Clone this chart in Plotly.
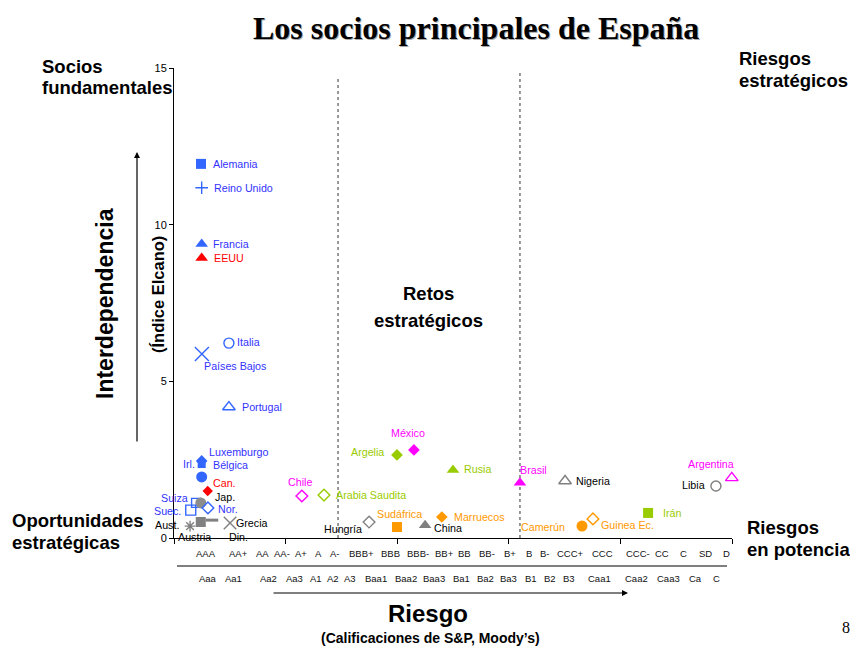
import plotly.graph_objects as go

# ---------------- datos ----------------
paises = ["Alemania", "Reino Unido", "Francia", "EEUU", "Italia", "Países Bajos", "Portugal",
          "Luxemburgo", "Irl.", "Bélgica", "Can.", "Suiza", "Jap.", "Nor.", "Suec.", "Aust.",
          "Austria", "Din.", "Grecia", "Chile", "Arabia Saudita", "Hungría", "Argelia", "México",
          "Sudáfrica", "China", "Marruecos", "Rusia", "Brasil", "Nigeria", "Camerún", "Guinea Ec.",
          "Irán", "Libia", "Argentina"]

# posición en la escala de riesgo (calificación crediticia)
riesgo = [1.21, 1.24, 1.24, 1.24, 2.46, 1.25, 2.46,
          1.24, 1.24, 1.24, 1.51, 0.99, 1.20, 1.52, 0.75, 0.72,
          1.20, 1.70, 2.51, 5.73, 6.72, 8.74, 9.99, 10.75,
          9.99, 11.25, 12.00, 12.50, 15.50, 17.52, 18.28, 18.77,
          21.24, 24.28, 24.99]

# Índice Elcano de interdependencia
interdependencia = [11.94, 11.18, 9.38, 8.94, 6.22, 5.87, 4.18,
                    2.46, 2.36, 1.95, 1.50, 1.12, 1.12, 0.96, 0.89, 0.38,
                    0.51, 0.57, 0.48, 1.34, 1.37, 0.51, 2.65, 2.81,
                    0.35, 0.41, 0.67, 2.17, 1.76, 1.82, 0.38, 0.61,
                    0.80, 1.66, 1.92]

calif_sp = ["AAA", "AA+", "AA", "AA-", "A+", "A", "A-", "BBB+", "BBB", "BBB-", "BB+", "BB",
            "BB-", "B+", "B", "B-", "CCC+", "CCC", "CCC-", "CC", "C", "SD", "D"]
calif_moodys = ["Aaa", "Aa1", "Aa2", "Aa3", "A1", "A2", "A3", "Baa1", "Baa2", "Baa3", "Ba1",
                "Ba2", "Ba3", "B1", "B2", "B3", "Caa1", "Caa2", "Caa3", "Ca", "C"]

limites_zonas = [7.35, 15.5]

# ---------------- estilo ----------------
AZUL, AZUL_T = "#3366FF", "#3333FF"
ROJO = "#FF0000"
MAGENTA = "#FF00FF"
VERDE = "#99CC00"
NARANJA = "#FF9900"
GRIS, NEGRO = "#808080", "#000000"

# símbolo, tamaño, color del marcador, color del texto
estilo = {
    "Alemania": ("square", 10, AZUL, AZUL_T),
    "Reino Unido": ("cross-thin-open", 9, AZUL, AZUL_T),
    "Francia": ("triangle-up", 11, AZUL, AZUL_T),
    "EEUU": ("triangle-up", 11, ROJO, ROJO),
    "Italia": ("circle-open", 10, AZUL, AZUL_T),
    "Países Bajos": ("x-thin-open", 14, AZUL, AZUL_T),
    "Portugal": ("triangle-up-open", 11, AZUL, AZUL_T),
    "Luxemburgo": ("diamond", 9, AZUL, AZUL_T),
    "Irl.": ("square", 8, AZUL, AZUL_T),
    "Bélgica": ("circle", 11, AZUL, AZUL_T),
    "Can.": ("diamond", 8, ROJO, ROJO),
    "Suiza": ("square-open", 9, AZUL, AZUL_T),
    "Jap.": ("circle", 11, "#8C8C8C", NEGRO),
    "Nor.": ("diamond-open", 9, AZUL, AZUL_T),
    "Suec.": ("square-open", 10, AZUL, AZUL_T),
    "Aust.": ("asterisk-open", 9, GRIS, NEGRO),
    "Austria": ("square", 10, GRIS, NEGRO),
    "Din.": ("line-ew-open", 9, GRIS, NEGRO),
    "Grecia": ("x-thin-open", 12.5, GRIS, NEGRO),
    "Chile": ("diamond-open", 9, MAGENTA, MAGENTA),
    "Arabia Saudita": ("diamond-open", 9, VERDE, VERDE),
    "Hungría": ("diamond-open", 9, GRIS, NEGRO),
    "Argelia": ("diamond", 9, VERDE, VERDE),
    "México": ("diamond", 9, MAGENTA, MAGENTA),
    "Sudáfrica": ("square", 10, NARANJA, NARANJA),
    "China": ("triangle-up", 11, GRIS, NEGRO),
    "Marruecos": ("diamond", 9, NARANJA, NARANJA),
    "Rusia": ("triangle-up", 11, VERDE, VERDE),
    "Brasil": ("triangle-up", 11, MAGENTA, MAGENTA),
    "Nigeria": ("triangle-up-open", 11, GRIS, NEGRO),
    "Camerún": ("circle", 11, NARANJA, NARANJA),
    "Guinea Ec.": ("diamond-open", 9, NARANJA, NARANJA),
    "Irán": ("square", 10, VERDE, VERDE),
    "Libia": ("circle-open", 10, GRIS, NEGRO),
    "Argentina": ("triangle-up-open", 11, MAGENTA, MAGENTA),
}

# desplazamiento de cada etiqueta respecto a su marcador (px: dx, dy hacia abajo, anclaje)
etiqueta = {
    "Alemania": (10, 0, "left"), "Reino Unido": (10, 0, "left"), "Francia": (9, 0, "left"),
    "EEUU": (10, 0, "left"), "Italia": (6, -1, "left"), "Países Bajos": (0, 12, "left"),
    "Portugal": (11, 0, "left"), "Luxemburgo": (5, -9, "left"), "Irl.": (-5, 0, "right"),
    "Bélgica": (9, -12, "left"), "Can.": (3, -8, "left"), "Suiza": (-6, -5, "right"),
    "Jap.": (12, -6, "left"), "Nor.": (8, 1, "left"), "Suec.": (-8, 1, "right"),
    "Aust.": (-9, -1, "right"), "Austria": (-6, 15, "center"), "Din.": (15, 17, "left"),
    "Grecia": (4, 0, "left"), "Chile": (-2, -14, "center"), "Arabia Saudita": (10, 0, "left"),
    "Hungría": (-5, 7, "right"), "Argelia": (-11, -3, "right"), "México": (-6, -17, "center"),
    "Sudáfrica": (3, -13, "center"), "China": (7, 3, "left"), "Marruecos": (10, 0, "left"),
    "Rusia": (9, -1, "left"), "Brasil": (-2, -13, "left"), "Nigeria": (9, 0, "left"),
    "Camerún": (-15, 1, "right"), "Guinea Ec.": (6, 6, "left"), "Irán": (13, 0, "left"),
    "Libia": (-9, -1, "right"), "Argentina": (-21, -14, "center"),
}

# centros (px) de las calificaciones bajo el eje
pos_sp = [206, 238, 262, 282, 301, 318, 335, 361, 390, 418, 444, 464, 487, 510, 529, 545,
          570, 602, 638, 662, 683, 705, 726]
pos_moodys = [208, 233, 268, 294, 316, 333, 350, 376, 406, 434, 461, 485, 509, 531, 550, 569,
              599, 636, 668, 695, 716]

SANS = "Liberation Sans, Arial, sans-serif"
SERIF = "Liberation Serif, Times New Roman, serif"

W, H = 850, 648
L, R, T, B = 174, 118, 68, 110
PW, PH = W - L - R, H - T - B
X_MAX, Y_MAX = 25, 15


def fx(px):
    return (px - L) / PW


def fy(py):
    return (H - B - py) / PH


fig = go.Figure()

simbolos = [estilo[p][0] for p in paises]
fig.add_trace(go.Scatter(
    x=riesgo, y=interdependencia, mode="markers", text=paises,
    hoverinfo="text", cliponaxis=False, showlegend=False,
    marker=dict(
        symbol=simbolos,
        size=[estilo[p][1] for p in paises],
        color=[estilo[p][2] for p in paises],
        line=dict(color=[estilo[p][2] for p in paises],
                  width=[3 if s.startswith("line") else (1.4 if s.endswith("open") else 0)
                         for s in simbolos]),
        opacity=1,
    ),
))

anots = []
for p, xv, yv in zip(paises, riesgo, interdependencia):
    dx, dy, anc = etiqueta[p]
    anots.append(dict(x=xv, y=yv, xref="x", yref="y", text=p, showarrow=False,
                      xanchor=anc, yanchor="middle", xshift=dx, yshift=-dy,
                      font=dict(family=SANS, size=10.7, color=estilo[p][3])))

# calificaciones S&P y Moody's
for lab, px in zip(calif_sp, pos_sp):
    anots.append(dict(x=fx(px), y=fy(553), xref="paper", yref="paper", text=lab,
                      showarrow=False, xanchor="center", yanchor="middle",
                      font=dict(family=SANS, size=9.5, color="#111")))
for lab, px in zip(calif_moodys, pos_moodys):
    anots.append(dict(x=fx(px), y=fy(578), xref="paper", yref="paper", text=lab,
                      showarrow=False, xanchor="center", yanchor="middle",
                      font=dict(family=SANS, size=9.5, color="#111")))


def texto(t, x, y, size, anchor="center", bold=True, family=SANS, color="#000", angle=0):
    anots.append(dict(x=fx(x), y=fy(y), xref="paper", yref="paper",
                      text=f"<b>{t}</b>" if bold else t, showarrow=False,
                      xanchor=anchor, yanchor="middle", textangle=angle,
                      font=dict(family=family, size=size, color=color)))


# título con sombra
texto("Los socios principales de España", 477, 29.5, 32, family=SERIF, color="#a8a8a8")
texto("Los socios principales de España", 475.5, 28, 32, family=SERIF)

# cuadrantes
texto("Socios", 40, 66, 18.5, anchor="left")
texto("fundamentales", 40, 88, 18.5, anchor="left")
texto("Riesgos", 737, 58, 18.5, anchor="left")
texto("estratégicos", 737, 80, 18.5, anchor="left")
texto("Oportunidades", 10, 520, 18.5, anchor="left")
texto("estratégicas", 10, 542, 18.5, anchor="left")
texto("Riesgos", 745, 527, 18.5, anchor="left")
texto("en potencia", 745, 549, 18.5, anchor="left")
texto("Retos", 428, 293, 18.5)
texto("estratégicos", 428, 320, 18.5)

# títulos de ejes
texto("Interdependencia", 105, 304, 23, angle=-90)
texto("(Índice Elcano)", 158, 295, 16.5, angle=-90)
texto("Riesgo", 428, 613, 24)
texto("(Calificaciones de S&P, Moody’s)", 430, 638, 14)
texto("8", 846, 627, 16, bold=False, family=SERIF)

# flechas
anots.append(dict(x=fx(137), y=fy(152), xref="paper", yref="paper", ax=0, ay=291,
                  axref="pixel", ayref="pixel", showarrow=True, arrowhead=2,
                  arrowsize=1, arrowwidth=1.2, arrowcolor="#000", text=""))
anots.append(dict(x=fx(628), y=fy(593), xref="paper", yref="paper", ax=-356, ay=0,
                  axref="pixel", ayref="pixel", showarrow=True, arrowhead=2,
                  arrowsize=1, arrowwidth=1.2, arrowcolor="#000", text=""))

shapes = [
    dict(type="line", xref="paper", yref="paper", x0=fx(177), x1=fx(727), y0=fy(566),
         y1=fy(566), line=dict(color="#000", width=1.2)),
    dict(type="line", xref="x", yref="y", x0=limites_zonas[0], x1=limites_zonas[0],
         y0=0, y1=14.7, line=dict(color="#777", width=1.5, dash="dot"), layer="below"),
    dict(type="line", xref="x", yref="y", x0=limites_zonas[1], x1=limites_zonas[1],
         y0=0, y1=14.9, line=dict(color="#777", width=1.5, dash="dot"), layer="below"),
]

fig.update_layout(
    width=W, height=H, autosize=False,
    margin=dict(l=L, r=R, t=T, b=B, pad=0),
    paper_bgcolor="white", plot_bgcolor="white",
    annotations=anots, shapes=shapes,
    xaxis=dict(range=[0, X_MAX], showgrid=False, zeroline=False, showline=True,
               linecolor="#000", linewidth=1, ticks="outside", ticklen=5,
               tickcolor="#000", tickvals=[0, 5, 10, 15, 20, 25], showticklabels=False,
               fixedrange=True),
    yaxis=dict(range=[0, Y_MAX], showgrid=False, zeroline=False, showline=True,
               linecolor="#000", linewidth=1, ticks="outside", ticklen=4,
               tickcolor="#000", tickvals=[0, 5, 10, 15],
               tickfont=dict(family=SANS, size=11, color="#000"), fixedrange=True),
    font=dict(family=SANS),
)

fig.write_html("out.html")
